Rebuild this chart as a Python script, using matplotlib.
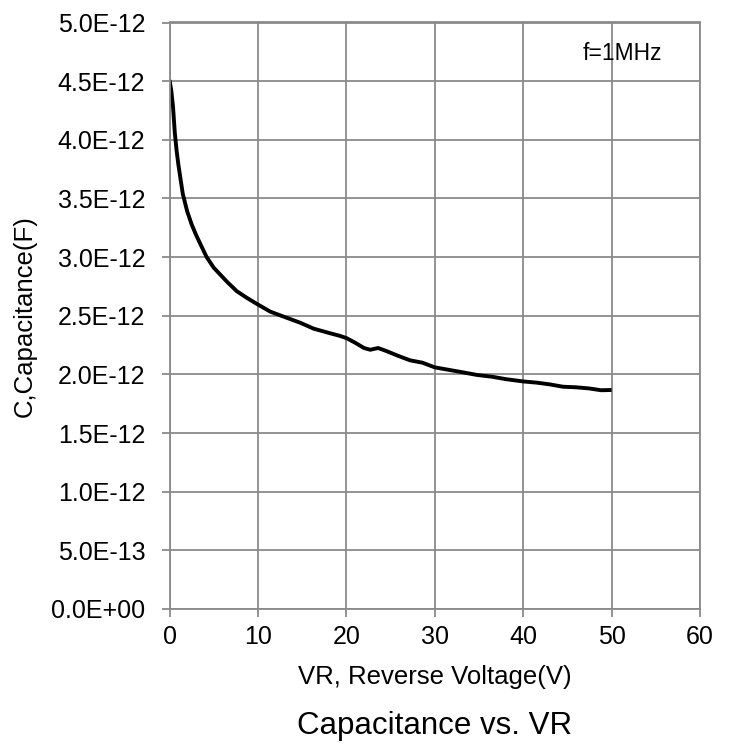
#!/usr/bin/env python3
"""Capacitance vs. reverse voltage curve (f = 1 MHz)."""

import matplotlib
matplotlib.use("Agg")
import matplotlib.pyplot as plt
from matplotlib.ticker import FuncFormatter

# Values (V, farads)
vr_volts = [0.0, 0.2, 0.4, 0.6, 0.8, 1.0, 1.2, 1.5, 2.0, 2.5, 3.0, 3.5,
            4.2, 5.0, 5.5, 6.5, 7.6, 8.7, 9.9, 11.4, 13.0, 14.8, 16.3,
            18.2, 19.2, 20.0, 21.0, 22.0, 22.7, 23.6, 24.5, 25.8, 27.2,
            28.6, 30.0, 31.5, 33.0, 34.8, 36.5, 38.0, 40.0, 41.5, 43.0,
            44.5, 46.0, 47.5, 48.8, 50.0]
cap_farads = [4.51e-12, 4.42e-12, 4.28e-12, 4.06e-12, 3.91e-12, 3.79e-12,
              3.69e-12, 3.54e-12, 3.39e-12, 3.28e-12, 3.19e-12, 3.11e-12,
              3.00e-12, 2.91e-12, 2.87e-12, 2.79e-12, 2.71e-12, 2.655e-12,
              2.60e-12, 2.535e-12, 2.49e-12, 2.44e-12, 2.39e-12, 2.35e-12,
              2.33e-12, 2.31e-12, 2.27e-12, 2.225e-12, 2.21e-12, 2.225e-12,
              2.20e-12, 2.16e-12, 2.12e-12, 2.10e-12, 2.06e-12, 2.04e-12,
              2.02e-12, 1.995e-12, 1.98e-12, 1.96e-12, 1.94e-12, 1.93e-12,
              1.915e-12, 1.895e-12, 1.89e-12, 1.88e-12, 1.865e-12, 1.867e-12]

x_ticks = [0, 10, 20, 30, 40, 50, 60]
y_ticks = [i * 0.5e-12 for i in range(11)]

plt.rcParams['font.family'] = ['Liberation Sans', 'DejaVu Sans']

fig = plt.figure(figsize=(7.34, 7.45), dpi=100)
W, H = 734, 745
left, right, top, bottom = 169.5, 700, 22.5, 609
ax = fig.add_axes([left / W, 1 - bottom / H, (right - left) / W, (bottom - top) / H])

grid_color = '#8a8a8a'
ax.plot(vr_volts, cap_farads, color='black', linewidth=2.8,
        solid_capstyle='butt', solid_joinstyle='round')

ax.set_xlim(0, 60)
ax.set_ylim(0, 5e-12)
ax.set_xticks(x_ticks)
ax.set_yticks(y_ticks)
ax.yaxis.set_major_formatter(FuncFormatter(
    lambda v, _: "0.0E+00" if v == 0 else f"{v:.1E}"))

ax.grid(True, color=grid_color, linewidth=1.3)
ax.set_axisbelow(True)
for s in ax.spines.values():
    s.set_color(grid_color)
    s.set_linewidth(1.3)

ax.tick_params(axis='both', direction='out', length=5.5, width=1.3,
               color=grid_color, labelsize=18, labelcolor='black')
ax.tick_params(axis='y', pad=12)
ax.tick_params(axis='x', pad=6)

fig.text(662 / W, 1 - 53 / H, 'f=1MHz', ha='right', va='center', fontsize=16.5)

fig.text((left + right) / 2 / W, 1 - 677 / H, 'VR, Reverse Voltage(V)',
         ha='center', va='center', fontsize=18.5)
fig.text((left + right) / 2 / W, 1 - 726 / H, 'Capacitance vs. VR',
         ha='center', va='center', fontsize=22.5)
fig.text(25 / W, 1 - ((top + bottom) / 2) / H, 'C,Capacitance(F)',
         ha='center', va='center', rotation=90, fontsize=18.5)

fig.savefig('out.png', dpi=100)
